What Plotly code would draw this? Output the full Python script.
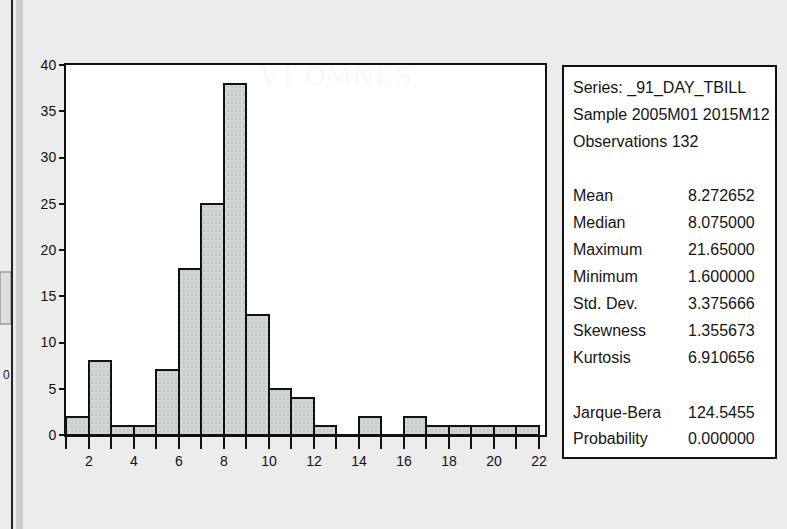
import plotly.graph_objects as go

# ---- data ----
bin_left = list(range(1, 22))
counts = [2, 8, 1, 1, 7, 18, 25, 38, 13, 5, 4, 1, 0, 2, 0, 2, 1, 1, 1, 1, 1]
y_ticks = [0, 5, 10, 15, 20, 25, 30, 35, 40]
x_ticks = list(range(1, 23))
x_ticklabels = [str(v) if v % 2 == 0 else "" for v in x_ticks]

header_lines = ["Series: _91_DAY_TBILL", "Sample 2005M01 2015M12", "Observations 132"]
stat_names = ["Mean", "Median", "Maximum", "Minimum", "Std. Dev.", "Skewness", "Kurtosis"]
stat_values = ["8.272652", "8.075000", "21.65000", "1.600000", "3.375666", "1.355673", "6.910656"]
jb_names = ["Jarque-Bera", "Probability"]
jb_values = ["124.5455", "0.000000"]

# ---- layout geometry (pixels) ----
W, H = 787, 529
L, R, T, B = 66, 545, 65, 435


def px(x):
    return (x - L) / (R - L)


def py(y):
    return (B - y) / (B - T)


centers = [b + 0.5 for b in bin_left]

fig = go.Figure()
fig.add_trace(go.Bar(
    x=centers, y=counts, width=1,
    marker=dict(color="#cdd2d2", line=dict(color="#111111", width=2),
                pattern=dict(shape=".", fgcolor="#b5baba", bgcolor="#d1d6d6", size=4, solidity=0.25)),
    hoverinfo="x+y", showlegend=False,
))

tick_font = dict(family="Liberation Sans Narrow, Arial Narrow, Liberation Sans, Arial", size=14, color="#111111")

fig.update_layout(
    width=W, height=H,
    margin=dict(l=L, r=W - R, t=T, b=H - B, pad=0),
    paper_bgcolor="#ececec",
    plot_bgcolor="#ffffff",
    bargap=0,
    xaxis=dict(range=[0.98, 22.27], tickmode="array", tickvals=x_ticks, ticktext=x_ticklabels,
               ticks="outside", ticklen=12, tickwidth=2, tickcolor="#111111",
               showline=True, linecolor="#111111", linewidth=2, mirror=True,
               showgrid=False, zeroline=False, tickfont=tick_font, fixedrange=True),
    yaxis=dict(range=[0, 40], tickmode="array", tickvals=y_ticks,
               ticks="outside", ticklen=5, tickwidth=2, tickcolor="#111111",
               showline=True, linecolor="#111111", linewidth=2, mirror=True,
               showgrid=False, zeroline=False, tickfont=tick_font, fixedrange=True),
    font=dict(family="Liberation Sans, Arial", color="#111111"),
)

shapes = []
# stats box
shapes.append(dict(type="rect", xref="paper", yref="paper",
                   x0=px(563), x1=px(776), y0=py(66), y1=py(458),
                   line=dict(color="#111111", width=2), fillcolor="#ffffff", layer="below"))
# left-side window artifacts
shapes.append(dict(type="rect", xref="paper", yref="paper",
                   x0=px(0), x1=px(11), y0=py(272), y1=py(324),
                   line=dict(color="#7a7a7a", width=1), fillcolor="#dedede"))
shapes.append(dict(type="rect", xref="paper", yref="paper",
                   x0=px(16), x1=px(23), y0=py(0), y1=py(H),
                   line=dict(width=0), fillcolor="#cbcdcd"))
shapes.append(dict(type="line", xref="paper", yref="paper",
                   x0=px(12), x1=px(12), y0=py(0), y1=py(H),
                   line=dict(color="#222222", width=2)))
fig.update_layout(shapes=shapes)

anns = []
sfont = dict(family="Liberation Sans, Arial", size=16, color="#151515")
header_y = [88, 115, 141]
for txt, yy in zip(header_lines, header_y):
    anns.append(dict(text=txt, x=px(571), y=py(yy), xref="paper", yref="paper",
                     xanchor="left", yanchor="middle", showarrow=False, font=sfont))
stat_y = [195, 222, 249, 276, 303, 330, 357]
for name, val, yy in zip(stat_names, stat_values, stat_y):
    anns.append(dict(text=name, x=px(571), y=py(yy), xref="paper", yref="paper",
                     xanchor="left", yanchor="middle", showarrow=False, font=sfont))
    anns.append(dict(text=val, x=px(757), y=py(yy), xref="paper", yref="paper",
                     xanchor="right", yanchor="middle", showarrow=False, font=sfont))
jb_y = [412, 439]
for name, val, yy in zip(jb_names, jb_values, jb_y):
    anns.append(dict(text=name, x=px(571), y=py(yy), xref="paper", yref="paper",
                     xanchor="left", yanchor="middle", showarrow=False, font=sfont))
    anns.append(dict(text=val, x=px(757), y=py(yy), xref="paper", yref="paper",
                     xanchor="right", yanchor="middle", showarrow=False, font=sfont))
# artifacts text
anns.append(dict(text="0", x=px(6), y=py(375), xref="paper", yref="paper",
                 xanchor="center", yanchor="middle", showarrow=False,
                 font=dict(family="Liberation Sans Narrow, Liberation Sans", size=12, color="#222222")))
# faint watermark
anns.append(dict(text="VT OMNES", x=px(335), y=py(76), xref="paper", yref="paper",
                 xanchor="center", yanchor="middle", showarrow=False,
                 font=dict(family="DejaVu Serif, Liberation Serif", size=26, color="rgba(0,0,0,0.05)")))
fig.update_layout(annotations=anns)

fig.write_html("out.html")
